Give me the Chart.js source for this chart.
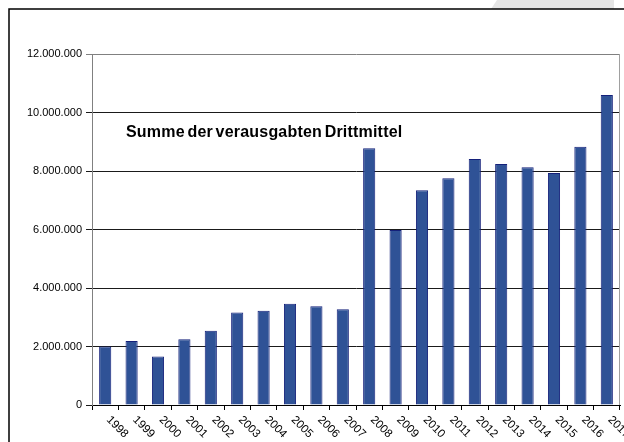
<!DOCTYPE html>
<html>
<head>
<meta charset="utf-8">
<script src="https://cdn.jsdelivr.net/npm/chart.js@4.4.1/dist/chart.umd.min.js"></script>
<style>
  html, body { margin: 0; padding: 0; background: #fff; }
</style>
</head>
<body>
<canvas id="chart" width="624" height="442"></canvas>
<script>
const years = ['1998', '1999', '2000', '2001', '2002', '2003', '2004', '2005', '2006', '2007',
  '2008', '2009', '2010', '2011', '2012', '2013', '2014', '2015', '2016', '2017'];
const drittmittel = [2000000, 2190000, 1660000, 2250000, 2540000, 3160000, 3220000, 3460000, 3380000, 3270000,
  8780000, 5980000, 7340000, 7750000, 8410000, 8240000, 8130000, 7930000, 8830000, 10600000];
const yMax = 12000000;
const yStep = 2000000;
const chartTitle = 'Summe der verausgabten Drittmittel';

const FONT = '"Liberation Sans", Arial, sans-serif';

function formatDE(v) {
  return String(v).replace(/\B(?=(\d{3})+(?!\d))/g, '.');
}

// outer black frame and the grey shape above it
const framePlugin = {
  id: 'frame',
  beforeDraw(chart) {
    const { ctx } = chart;
    ctx.save();
    ctx.fillStyle = '#fff';
    ctx.fillRect(0, 0, chart.width, chart.height);
    ctx.fillStyle = '#e5e5e5';
    ctx.beginPath();
    ctx.moveTo(491, 9);
    ctx.lineTo(497, 0);
    ctx.lineTo(614, 0);
    ctx.lineTo(614, 9);
    ctx.closePath();
    ctx.fill();
    ctx.strokeStyle = '#000';
    ctx.lineWidth = 1.5;
    ctx.beginPath();
    ctx.moveTo(9, chart.height + 2);
    ctx.lineTo(9, 9);
    ctx.lineTo(chart.width + 2, 9);
    ctx.stroke();
    ctx.restore();
  }
};

// grey right edge of the plot area
const plotBorderPlugin = {
  id: 'plotBorder',
  beforeDatasetsDraw(chart) {
    const { ctx, chartArea } = chart;
    ctx.save();
    ctx.strokeStyle = '#a0a0a0';
    ctx.lineWidth = 1;
    ctx.beginPath();
    ctx.moveTo(Math.round(chartArea.right) - 0.5, chartArea.top);
    ctx.lineTo(Math.round(chartArea.right) - 0.5, chartArea.bottom);
    ctx.stroke();
    ctx.restore();
  }
};

// rotated year labels, reading downward to the right
const yearLabelsPlugin = {
  id: 'yearLabels',
  afterDraw(chart) {
    const { ctx } = chart;
    const xScale = chart.scales.x;
    ctx.save();
    ctx.font = '11.5px ' + FONT;
    ctx.fillStyle = '#000';
    ctx.textAlign = 'left';
    ctx.textBaseline = 'middle';
    years.forEach((label, i) => {
      const x = xScale.getPixelForValue(i);
      ctx.save();
      ctx.translate(x + 3, xScale.top + 13);
      ctx.rotate(Math.PI / 4);
      ctx.fillText(label, 0, 0);
      ctx.restore();
    });
    ctx.restore();
  }
};

// title inside the plot area
const innerTitlePlugin = {
  id: 'innerTitle',
  afterDraw(chart) {
    const { ctx } = chart;
    ctx.save();
    ctx.font = 'bold 16px ' + FONT;
    ctx.letterSpacing = '0.2px';
    ctx.wordSpacing = '-2px';
    ctx.fillStyle = '#000';
    ctx.textAlign = 'left';
    ctx.textBaseline = 'alphabetic';
    ctx.fillText(chartTitle, 126, 137);
    ctx.restore();
  }
};

new Chart(document.getElementById('chart'), {
  type: 'bar',
  data: {
    labels: years,
    datasets: [{
      data: drittmittel,
      backgroundColor: '#2f5296',
      borderColor: '#14207a',
      borderWidth: 1,
      barPercentage: 0.46,
      categoryPercentage: 1
    }]
  },
  options: {
    responsive: false,
    animation: false,
    layout: { padding: { top: 54, right: 4, left: 0, bottom: 0 } },
    plugins: {
      legend: { display: false },
      tooltip: { enabled: false },
      title: { display: false }
    },
    scales: {
      x: {
        offset: true,
        grid: {
          offset: true,
          drawOnChartArea: false,
          drawTicks: true,
          tickLength: 5,
          color: '#000'
        },
        border: { color: '#000' },
        ticks: { display: false },
        afterFit(scale) { scale.height = 37; }
      },
      y: {
        min: 0,
        max: yMax,
        ticks: {
          stepSize: yStep,
          padding: 4,
          color: '#000',
          font: { family: FONT, size: 11 },
          callback: v => formatDE(v)
        },
        grid: {
          color: c => (c.tick && c.tick.value === yMax ? '#808080' : '#1a1a1a'),
          tickLength: 6,
          lineWidth: 1
        },
        border: { color: '#808080' },
        afterFit(scale) { scale.width = 92; }
      }
    }
  },
  plugins: [framePlugin, plotBorderPlugin, yearLabelsPlugin, innerTitlePlugin]
});
</script>
</body>
</html>
